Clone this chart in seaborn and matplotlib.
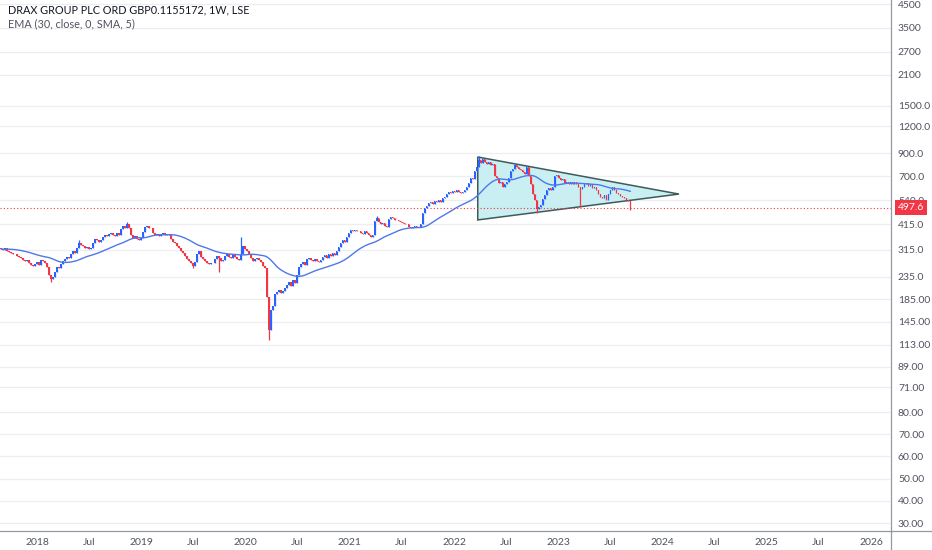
import numpy as np
import pandas as pd
import matplotlib
matplotlib.use('Agg')
import matplotlib.pyplot as plt
import matplotlib.dates as mdates
import matplotlib.ticker as mticker
from matplotlib.patches import Polygon
from matplotlib.lines import Line2D
import seaborn as sns

# ==============================
# DATA (weekly closes)
# ==============================
closes = [
    318, 315, 320, 312, 308, 306, 300, 303, 296, 292,
    288, 284, 278, 282, 272, 268, 264, 270, 275, 268,
    282, 278, 272, 262, 240, 230, 236, 248, 262, 258,
    270, 280, 285, 292, 288, 300, 312, 306, 322, 340,
    332, 328, 322, 325, 318, 322, 340, 355, 350, 345,
    352, 362, 370, 366, 375, 380, 372, 368, 378, 372,
    395, 410, 400, 418, 400, 372, 360, 365, 355, 350,
    358, 382, 405, 410, 400, 398, 380, 372, 375, 368,
    375, 378, 372, 376, 370, 355, 345, 338, 330, 320,
    312, 305, 295, 285, 278, 272, 265, 275, 300, 310,
    292, 285, 278, 272, 270, 274, 272, 285, 295, 290,
    278, 282, 295, 300, 292, 288, 298, 292, 285, 282,
    300, 330, 318, 312, 300, 288, 280, 286, 290, 284,
    275, 265, 258, 190, 132, 165, 172, 196, 200, 205,
    198, 202, 208, 215, 222, 212, 228, 220, 240, 262,
    270, 275, 268, 285, 290, 282, 278, 285, 280, 276,
    282, 292, 298, 290, 300, 295, 305, 298, 310, 325,
    340, 351, 345, 362, 380, 391, 385, 392, 388, 385,
    380, 375, 388, 378, 370, 362, 372, 430, 445, 425,
    418, 420, 410, 404, 440, 448, 445, 438, 436, 432,
    428, 420, 415, 418, 405, 400, 404, 410, 406, 402,
    415, 470, 497, 505, 525, 530, 520, 535, 528, 540,
    532, 550, 560, 575, 590, 582, 595, 588, 600, 592,
    585, 590, 600, 625, 650, 690, 680, 740, 770, 830,
    810, 840, 820, 800, 815, 790, 800, 700, 690, 650,
    660, 625, 640, 660, 690, 740, 760, 790, 770, 760,
    745, 735, 720, 770, 700, 640, 580, 540, 490, 500,
    510, 545, 570, 600, 615, 600, 620, 700, 710, 690,
    670, 680, 650, 660, 640, 655, 640, 660, 640, 620,
    610, 625, 640, 650, 630, 640, 615, 620, 600, 575,
    560, 550, 570, 540, 575, 600, 620, 605, 585, 575,
    565, 560, 550, 540, 535, 497.6,
]
first_open = 322
start_week = '2017-08-28'

# notable wicks (week index -> price)
spike_high = {39: 351, 63: 428, 120: 362, 188: 455, 239: 870, 257: 800}
spike_low = {25: 222, 96: 259, 109: 249, 134: 119, 268: 470, 290: 500, 315: 485}

# triangle drawing
tri_dates = ['2022-03-25', '2022-03-25', '2024-02-28']
tri_prices = [862, 436, 577]

last_price = 497.6

main_ticks = [4500, 3500, 2700, 2100, 1500, 1200, 900, 700, 540, 415,
              315, 235, 185, 145, 113, 89, 71]
main_labels = ['4500', '3500', '2700', '2100', '1500.0', '1200.0', '900.0',
               '700.0', '540.0', '415.0', '315.0', '235.0', '185.00',
               '145.00', '113.00', '89.00', '71.00']
sub_ticks = [30, 40, 50, 60, 70, 80]
sub_labels = ['30.00', '40.00', '50.00', '60.00', '70.00', '80.00']

# ==============================
# PREP
# ==============================
df = pd.DataFrame({'date': pd.date_range(start_week, periods=len(closes), freq='7D'),
                   'close': closes})
df['open'] = [first_open] + closes[:-1]
df['high'] = df[['open', 'close']].max(axis=1)
df['low'] = df[['open', 'close']].min(axis=1)
for i, v in spike_high.items():
    df.loc[i, 'high'] = v
for i, v in spike_low.items():
    df.loc[i, 'low'] = v
df['ema'] = df['close'].ewm(span=30, adjust=False).mean().rolling(5, min_periods=1).mean()

UP = '#2962ff'
DOWN = '#f23645'
df['color'] = np.where(df['close'] >= df['open'], UP, DOWN)

# ==============================
# PLOT
# ==============================
sns.set_theme(style='white')
plt.rcParams['font.family'] = ['Lato', 'DejaVu Sans']

fig = plt.figure(figsize=(9.32, 5.5), dpi=100)
ax = fig.add_axes([0, 19 / 550, 891 / 932, 531 / 550])
ax.set_yscale('log')
ax.set_ylim(15.0, 4722)
ax.set_xlim(pd.Timestamp('2017-08-24'), pd.Timestamp('2026-03-12'))

# triangle
tri = Polygon(list(zip(mdates.date2num(pd.to_datetime(tri_dates)), tri_prices)),
              closed=True, facecolor='#c9eff3', edgecolor='#3e5a5a', lw=1.1, zorder=1)
ax.add_patch(tri)

# candles
ax.vlines(df['date'], df['low'], df['high'], colors=df['color'], lw=0.9, zorder=2)
body_h = (df['close'] - df['open']).abs().clip(lower=2.0)
ax.bar(df['date'], body_h, bottom=df[['open', 'close']].min(axis=1),
       width=5.0, color=df['color'], edgecolor='none', zorder=3)

# EMA
sns.lineplot(x=df['date'], y=df['ema'], color='#4d78ea', lw=1.0, ax=ax, zorder=4)

# last price line + label
ax.axhline(last_price, color=DOWN, ls=(0, (1, 2)), lw=0.8, zorder=1)

# second scale
ax2 = ax.twinx()
ax2.set_ylim(26.4, 265.6)
ax2.set_yticks(sub_ticks)
ax2.set_yticklabels(sub_labels)
ax2.tick_params(axis='y', length=0, pad=5, labelsize=7.5, labelcolor='#50535e')
ax2.yaxis.grid(True, color='#eceef2', lw=0.9)
ax2.set_ylabel('')
for s in ax2.spines.values():
    s.set_visible(False)

# y axis (log scale) -- after twinx so ticks stay on the right
ax.yaxis.tick_right()
ax.yaxis.set_major_locator(mticker.FixedLocator(main_ticks))
ax.yaxis.set_major_formatter(mticker.FixedFormatter(main_labels))
ax.yaxis.set_minor_locator(mticker.NullLocator())
ax.tick_params(axis='y', length=0, pad=5, labelsize=7.5, labelcolor='#50535e')
ax.yaxis.grid(True, color='#eceef2', lw=0.9)
ax.set_axisbelow(True)

ax2.annotate(f'{last_price}', xy=(1.0, last_price), xycoords=('axes fraction', ax.transData),
             xytext=(5, 0), textcoords='offset points', ha='left', va='center',
             color='white', fontsize=7.5, annotation_clip=False, zorder=10,
             bbox=dict(boxstyle='square,pad=0.3', fc=DOWN, ec='none'))

# x axis
def fmt_date(x, pos=None):
    d = mdates.num2date(x)
    return str(d.year) if d.month == 1 else 'Jul'

ax.xaxis.set_major_locator(mdates.MonthLocator(bymonth=[1, 7]))
ax.xaxis.set_major_formatter(mticker.FuncFormatter(fmt_date))
ax.tick_params(axis='x', length=0, pad=5, labelsize=7.5, labelcolor='#50535e')
ax.set_xlabel('')
ax.set_ylabel('')

for s in ['top', 'left']:
    ax.spines[s].set_visible(False)
ax.spines['right'].set_color('#9598a1')
ax.spines['bottom'].set_color('#9598a1')
ax.spines['right'].set_linewidth(0.9)
ax.spines['bottom'].set_linewidth(0.9)
fig.add_artist(Line2D([891 / 932, 891 / 932], [0, 19 / 550], color='#9598a1', lw=0.9))
fig.add_artist(Line2D([891 / 932, 1], [19 / 550, 19 / 550], color='#9598a1', lw=0.9))

# header
fig.text(8 / 932, 1 - 10 / 550, 'DRAX GROUP PLC ORD GBP0.1155172, 1W, LSE',
         fontsize=7.8, color='#131722', va='center')
fig.text(8 / 932, 1 - 24 / 550, 'EMA (30, close, 0, SMA, 5)',
         fontsize=7.8, color='#50535e', va='center')

fig.savefig('out.png', dpi=100, facecolor='white')
plt.close()
